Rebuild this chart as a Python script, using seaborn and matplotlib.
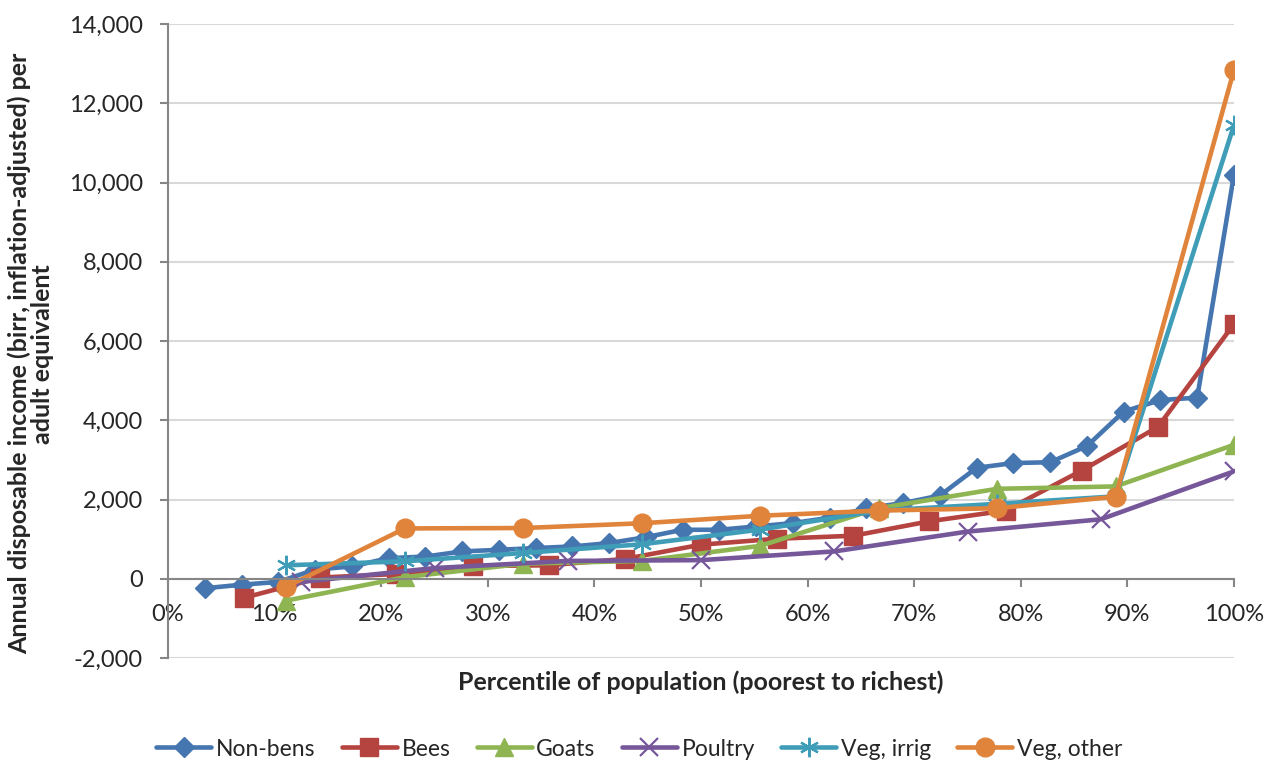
import numpy as np
import matplotlib
matplotlib.use('Agg')
import matplotlib.pyplot as plt
import matplotlib.ticker as mticker
import pandas as pd
import seaborn as sns

# percentile positions (share of population) for each group
nonbens_pct = [3.45, 6.90, 10.34, 13.79, 17.24, 20.69, 24.14, 27.59, 31.03, 34.48,
               37.93, 41.38, 44.83, 48.28, 51.72, 55.17, 58.62, 62.07, 65.52, 68.97,
               72.41, 75.86, 79.31, 82.76, 86.21, 89.66, 93.10, 96.55, 100.0]
bees_pct = [7.14, 14.29, 21.43, 28.57, 35.71, 42.86, 50.00, 57.14, 64.29, 71.43,
            78.57, 85.71, 92.86, 100.0]
ninths_pct = [11.11, 22.22, 33.33, 44.44, 55.56, 66.67, 77.78, 88.89, 100.0]
poultry_pct = [12.5, 25.0, 37.5, 50.0, 62.5, 75.0, 87.5, 100.0]

# annual disposable income (birr)
nonbens = [-240, -150, -80, 230, 310, 520, 560, 690, 730, 775,
           815, 900, 1050, 1236, 1236, 1320, 1405, 1540, 1780, 1910,
           2100, 2800, 2920, 2940, 3350, 4220, 4510, 4570, 10200]
bees = [-480, 30, 120, 320, 340, 500, 860, 1010, 1085, 1450, 1720, 2730, 3830, 6430]
goats = [-550, 40, 380, 450, 830, 1780, 2270, 2330, 3380]
poultry = [-80, 270, 450, 470, 690, 1190, 1500, 2710]
veg_irrig = [340, 440, 650, 870, 1240, 1720, 1890, 2080, 11450]
veg_other = [-200, 1270, 1280, 1400, 1590, 1720, 1780, 2070, 12840]

series = [
    ('Non-bens', nonbens_pct, nonbens, '#4676B0', 'D', 10.5, 1.0),
    ('Bees', bees_pct, bees, '#B5433F', 's', 13, 1.0),
    ('Goats', ninths_pct, goats, '#8FB552', '^', 12.5, 1.0),
    ('Poultry', poultry_pct, poultry, '#76589A', 'x', 12.5, 1.6),
    ('Veg, irrig', ninths_pct, veg_irrig, '#3F9DB8', (6, 2, 0), 14, 1.6),
    ('Veg, other', ninths_pct, veg_other, '#E0843C', 'o', 13.5, 1.0),
]

sns.set_style('white')
plt.rcParams['font.family'] = ['Lato', 'DejaVu Sans']
plt.rcParams['font.size'] = 16

fig = plt.figure(figsize=(12.66, 7.66), dpi=100)
ax = fig.add_axes([168 / 1266, 1 - 658 / 766, 1066 / 1266, 634 / 766])

for name, pct, vals, col, mk, ms, mew in series:
    df = pd.DataFrame({'pct': np.array(pct) / 100.0, 'income': vals})
    sns.lineplot(data=df, x='pct', y='income', ax=ax, color=col, lw=3.3,
                 marker=mk, markersize=ms, markeredgecolor=col, markerfacecolor=col,
                 markeredgewidth=mew, label=name, sort=False)

ax.set_xlim(0, 1)
ax.set_ylim(-2000, 14000)
ax.set_yticks(np.arange(-2000, 14001, 2000))
ax.set_xticks(np.arange(0, 1.01, 0.1))
ax.yaxis.set_major_formatter(mticker.FuncFormatter(lambda v, p: f'{v:,.0f}'))
ax.xaxis.set_major_formatter(mticker.FuncFormatter(lambda v, p: f'{v * 100:.0f}%'))

ax.grid(axis='y', color='#d9d9d9', lw=1.5)
ax.set_axisbelow(True)
for s in ['top', 'right']:
    ax.spines[s].set_visible(False)
ax.spines['bottom'].set_position(('data', 0))
ax.spines['bottom'].set_color('#868686')
ax.spines['left'].set_color('#868686')
ax.spines['bottom'].set_linewidth(1.5)
ax.spines['left'].set_linewidth(1.5)
ax.tick_params(axis='y', direction='out', length=6, width=1.5, color='#868686',
               pad=12, labelsize=17, left=True)
ax.tick_params(axis='x', direction='out', length=6, width=1.5, color='#868686',
               pad=12, labelsize=17, bottom=True)

ax.set_xlabel('Percentile of population (poorest to richest)', fontweight='bold', fontsize=18)
ax.xaxis.set_label_coords(0.5, -0.02)
ax.set_ylabel('Annual disposable income (birr, inflation-adjusted) per\nadult equivalent',
              fontweight='bold', fontsize=18, multialignment='center', linespacing=1.0)
ax.yaxis.set_label_coords(-0.107, 0.48)

handles, labels = ax.get_legend_handles_labels()
ax.legend_.remove()
fig.legend(handles, labels, loc='center', bbox_to_anchor=(0.505, 1 - 749 / 766), ncol=6,
           frameon=False, fontsize=16.5, handlelength=2.4, handletextpad=0.2,
           columnspacing=1.15)

fig.savefig('out.png', dpi=100)
